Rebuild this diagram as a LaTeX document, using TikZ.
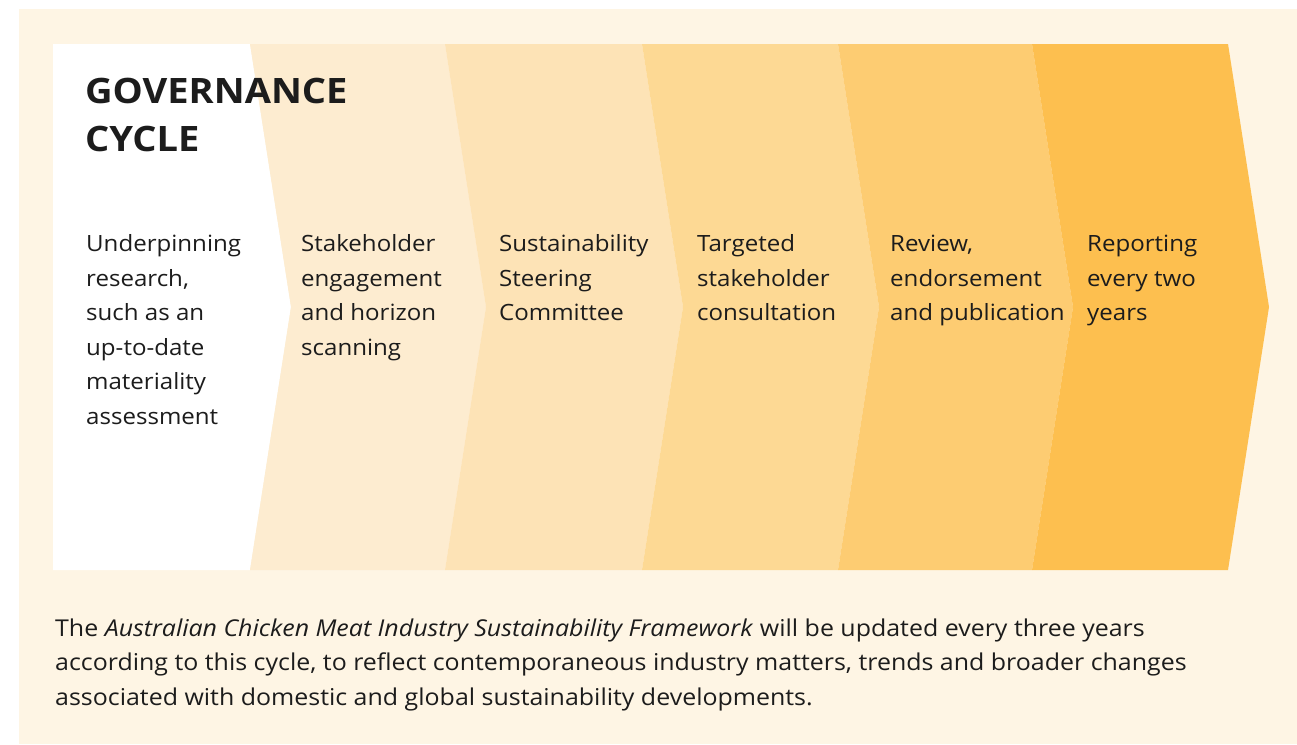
\documentclass[tikz,border=0pt]{standalone}
\usepackage{fontspec}
\setmainfont{Open Sans}[FakeStretch=1.075]
\newfontfamily\headfamily{Open Sans}[FakeStretch=1.087]
\usetikzlibrary{backgrounds}

\definecolor{panel}{HTML}{FEF5E4}
\definecolor{ink}{HTML}{1C1C1C}
\definecolor{cycB}{HTML}{FDECD0}
\definecolor{cycC}{HTML}{FDE3B6}
\definecolor{cycD}{HTML}{FDD994}
\definecolor{cycE}{HTML}{FDCC72}
\definecolor{cycF}{HTML}{FDBF4F}

\newcommand{\bodyfont}{\fontsize{22.4}{34.5}\selectfont}
\newcommand{\notefont}{\fontsize{23.2}{34.6}\selectfont}
\newcommand{\titlefont}{\headfamily\fontsize{35}{48.4}\selectfont\bfseries}

\begin{document}
\begin{tikzpicture}[x=1pt,y=-1pt]
\useasboundingbox (0,0) rectangle (1297,744);
\fill[panel] (19,9) rectangle (1297,744);

\begin{scope}
\fill[white] (53,44) -- (250,44) -- (291,307) -- (250,570) -- (53,570) -- cycle;
\fill[cycB] (250,44) -- (445,44) -- (486,307) -- (445,570) -- (250,570) -- (291,307) -- cycle;
\fill[cycC] (445,44) -- (642,44) -- (683,307) -- (642,570) -- (445,570) -- (486,307) -- cycle;
\fill[cycD] (642,44) -- (838,44) -- (879,307) -- (838,570) -- (642,570) -- (683,307) -- cycle;
\fill[cycE] (838,44) -- (1032,44) -- (1073,307) -- (1032,570) -- (838,570) -- (879,307) -- cycle;
\fill[cycF] (1032,44) -- (1228,44) -- (1269,307) -- (1228,570) -- (1032,570) -- (1073,307) -- cycle;
\end{scope}

% multi-line nodes sit on the baseline of their last line
\tikzstyle{every node}=[inner sep=0pt, anchor=base west, align=left, text=ink, font=\bodyfont];
\node[font=\titlefont] (title) at (85,151.7) {GOVERNANCE\\CYCLE};

\node (research) at (86,424.2) {Underpinning\\research,\\such as an\\up-to-date\\materiality\\assessment};
\node (engagement) at (301,355.2) {Stakeholder\\engagement\\and horizon\\scanning};
\node (steering) at (499,320.7) {Sustainability\\Steering\\Committee};
\node (consultation) at (697,320.7) {Targeted\\stakeholder\\consultation};
\node (review) at (890,320.7) {Review,\\endorsement\\and publication};
\node (reporting) at (1087,320.7) {Reporting\\every two\\years};

\node[font=\notefont] (note) at (55,705.5) {The \textit{Australian Chicken Meat Industry Sustainability Framework} will be updated every three years\\according to this cycle, to reflect contemporaneous industry matters, trends and broader changes\\associated with domestic and global sustainability developments.};
\end{tikzpicture}
\end{document}
